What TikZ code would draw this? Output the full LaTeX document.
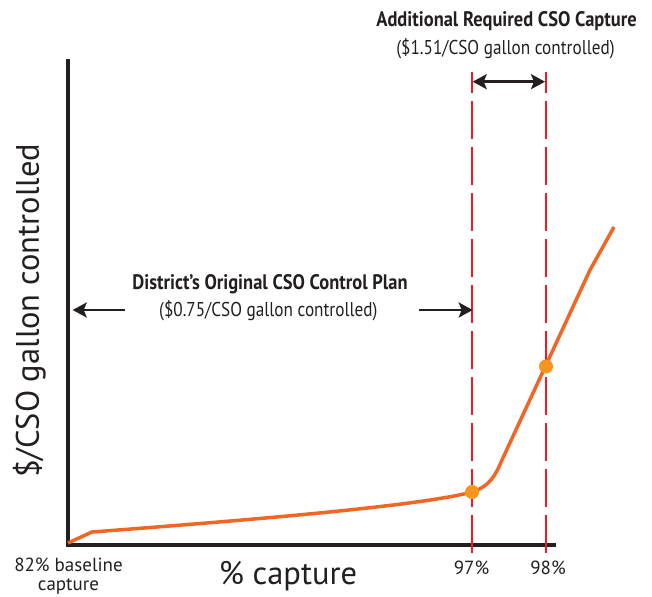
\documentclass[tikz,border=0pt]{standalone}
\usepackage{fontspec}
\setmainfont{PT Sans}
\newfontfamily\csonarrow{PT Sans}[FakeStretch=0.88]
\newfontfamily\csonarrowsub{PT Sans}[FakeStretch=0.86]
\usetikzlibrary{positioning,arrows.meta}
\definecolor{csoink}{RGB}{35,31,32}
\definecolor{csocurve}{RGB}{242,101,34}
\definecolor{csodot}{RGB}{247,148,29}
\definecolor{csored}{RGB}{237,28,36}
\tikzset{
  cso/.style={text=csoink, inner sep=0pt},
  csottl/.style={cso, font=\csonarrow\bfseries\fontsize{21}{23}\selectfont},
  csosub/.style={cso, font=\csonarrowsub\fontsize{20}{22}\selectfont},
  csotick/.style={cso, font=\fontsize{19}{18.5}\selectfont, align=center},
  csoaxlbl/.style={cso, font=\fontsize{32.5}{34}\selectfont},
  csoaxis/.style={draw=csoink, line width=4pt},
  csoguide/.style={draw=csored, line width=2.8pt, dash pattern=on 38pt off 8pt},
  csohead/.tip={Stealth[length=14pt,width=15pt,inset=3pt]},
  csoarr/.style={draw=csoink, line width=2.6pt, -csohead},
  csodarr/.style={csoarr, csohead-csohead},
  csoline/.style={draw=csocurve, line width=3.5pt, line join=round},
  csopt/.style={circle, fill=csodot, inner sep=0pt, minimum size=14pt},
}

\begin{document}
\begin{tikzpicture}[x=1pt, y=1pt]
  \useasboundingbox (0,0) rectangle (652,596);

  % Axes
  \coordinate (o) at (68,51);
  \coordinate (ytop) at (68,537);
  \coordinate (xend) at (556,51);
  \draw[csoaxis] (ytop) -- (o) -- (xend);

  % Guides at 97% and 98%
  \coordinate (g97b) at (472,43);
  \coordinate (g97t) at (472,524);
  \coordinate (g98b) at (546,43);
  \coordinate (g98t) at (546,524);
  \draw[csoguide] (g97b) -- (g97t);
  \draw[csoguide] (g98b) -- (g98t);

  % Cost curve
  \coordinate (p97) at (472,104);
  \coordinate (p98) at (546,229.5);
  \draw[csoline] (o) ++(0,2) -- (92,64) .. controls (250,76) and (420,90) .. (p97)
    .. controls (490,110) and (495,120) .. (502,136) -- (590,326) -- (614,369);
  \node[csopt] at (p97) {};
  \node[csopt] at (p98) {};

  % Additional capture
  \node[csottl, anchor=base] (ttladd) at (506.5,569.3) {Additional Required CSO Capture};
  \node[csosub, anchor=base] (subadd) at (505.5,541.7) {(\$1.51/CSO gallon controlled)};
  \coordinate (a97) at (472.7,514.3);
  \coordinate (a98) at (545,514.3);
  \draw[csodarr] (a97) -- (a98);

  % Original plan
  \node[csottl, anchor=base] (ttlplan) at (270,306) {District’s Original CSO Control Plan};
  \node[csosub, anchor=base] (subplan) at (268.3,279.3) {(\$0.75/CSO gallon controlled)};
  \coordinate (lt) at (125,286);
  \coordinate (lh) at (72.7,286);
  \coordinate (rt) at (419.3,286);
  \coordinate (rh) at (472.7,286);
  \draw[csoarr] (lt) -- (lh);
  \draw[csoarr] (rt) -- (rh);

  % Axis labels
  \node[csoaxlbl, anchor=base, rotate=90] (ylab) at (39,285) {\$/CSO gallon controlled};
  \node[csoaxlbl, anchor=base] (xlab) at (288,11.5) {\% capture};
  \node[csotick, anchor=north] (lbase) at (68.5,38) {82\% baseline\\capture};
  \node[csotick, anchor=base] (l97) at (471.5,21) {97\%};
  \node[csotick, anchor=base] (l98) at (548,21) {98\%};
\end{tikzpicture}
\end{document}
